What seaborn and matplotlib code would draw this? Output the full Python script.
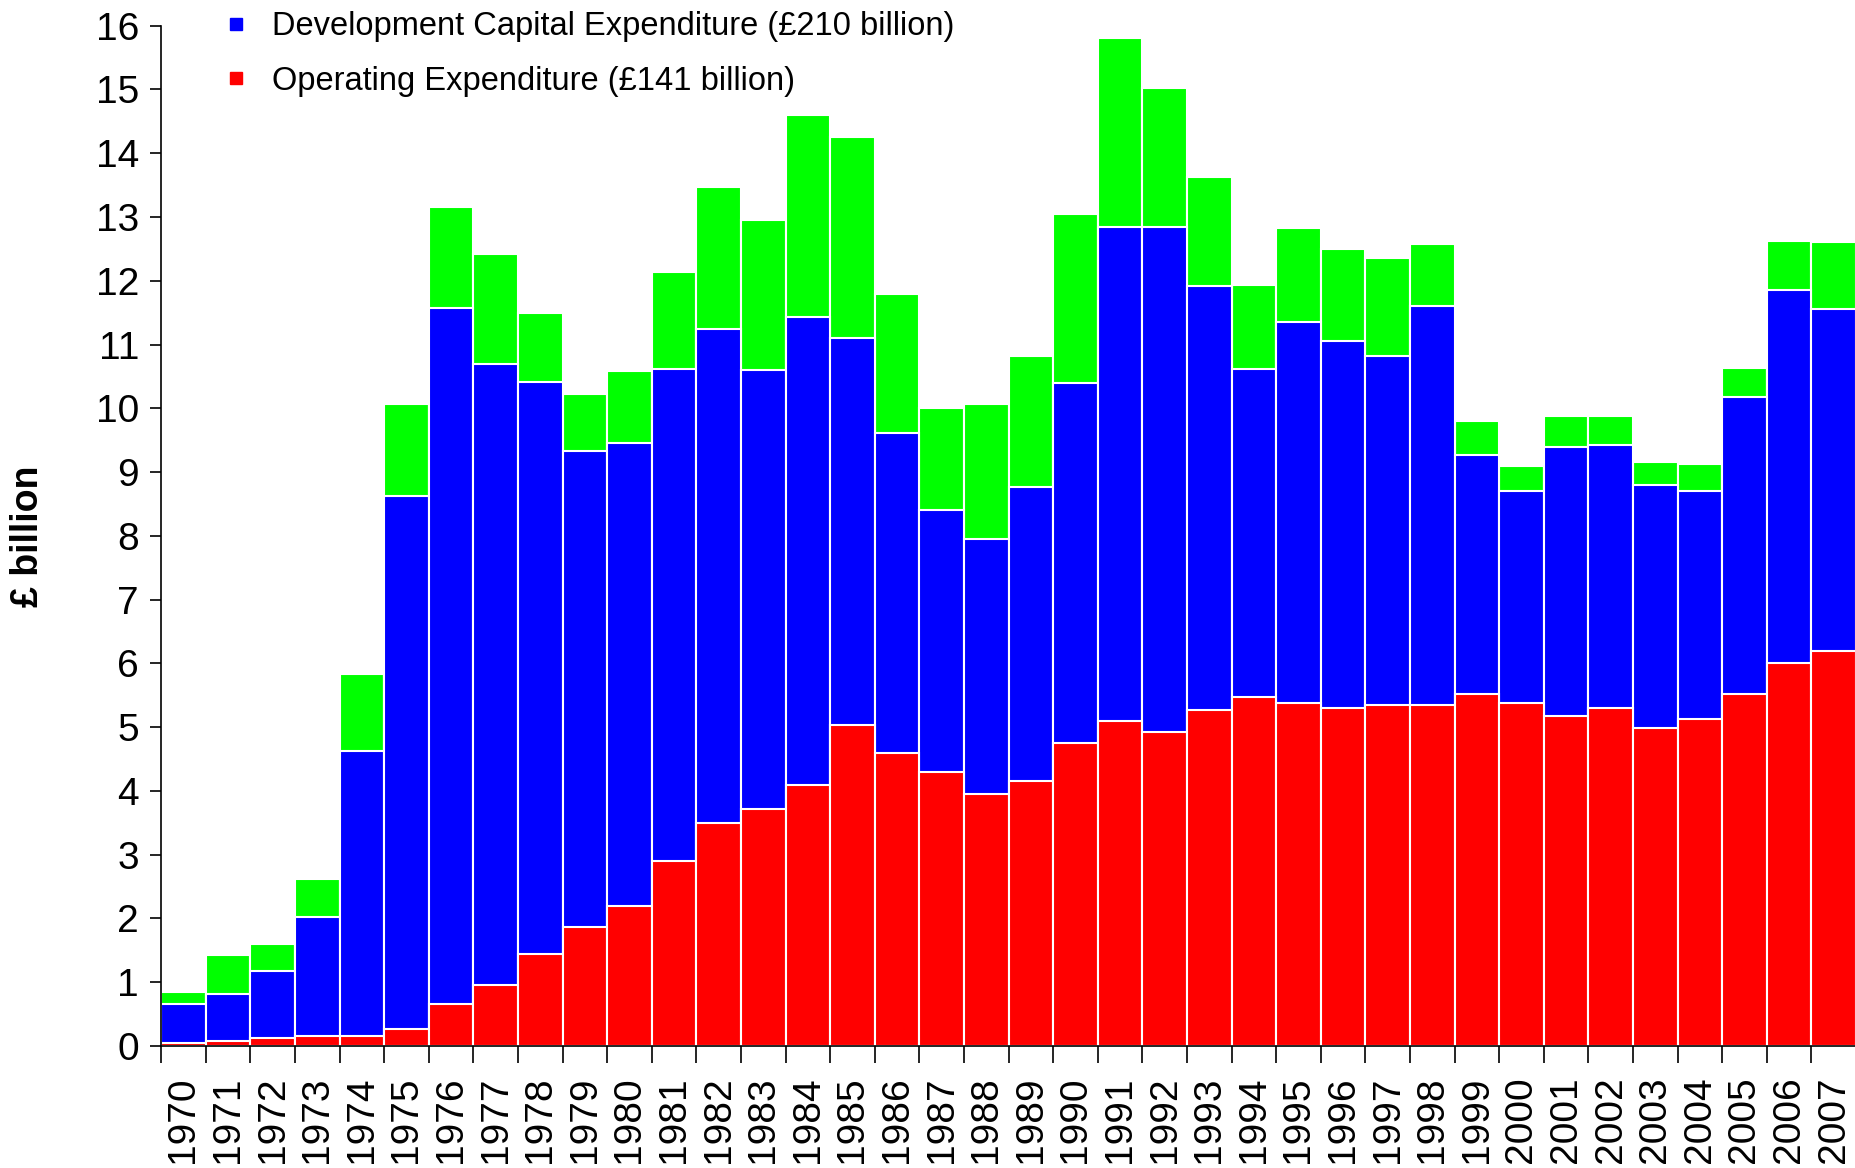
import numpy as np
import pandas as pd
import seaborn as sns
import matplotlib.pyplot as plt
from matplotlib.lines import Line2D

years = [str(y) for y in range(1970, 2008)]
# cumulative heights (£ billion)
operating = [0.05, 0.08, 0.12, 0.15, 0.15, 0.27, 0.66, 0.95, 1.44, 1.87,
             2.20, 2.90, 3.50, 3.72, 4.10, 5.03, 4.60, 4.30, 3.95, 4.15,
             4.75, 5.10, 4.92, 5.27, 5.47, 5.38, 5.30, 5.35, 5.35, 5.52,
             5.38, 5.18, 5.30, 4.98, 5.12, 5.52, 6.00, 6.20]
dev_top = [0.65, 0.82, 1.17, 2.03, 4.62, 8.62, 11.57, 10.70, 10.42, 9.33,
           9.45, 10.62, 11.25, 10.60, 11.43, 11.10, 9.62, 8.40, 7.95, 8.77,
           10.40, 12.85, 12.85, 11.92, 10.62, 11.35, 11.05, 10.82, 11.60, 9.27,
           8.70, 9.40, 9.43, 8.80, 8.70, 10.17, 11.85, 11.55]
total = [0.85, 1.42, 1.60, 2.62, 5.83, 10.07, 13.15, 12.42, 11.50, 10.22,
         10.58, 12.13, 13.47, 12.95, 14.60, 14.25, 11.80, 10.00, 10.07, 10.82,
         13.05, 15.80, 15.03, 13.62, 11.93, 12.82, 12.50, 12.35, 12.57, 9.80,
         9.10, 9.88, 9.88, 9.15, 9.12, 10.63, 12.63, 12.60]

df = pd.DataFrame({"Year": years, "Operating": operating, "Dev": dev_top, "Total": total})

sns.set_style("white")
plt.rcParams['font.family'] = ['Liberation Sans', 'DejaVu Sans']
plt.rcParams['text.color'] = 'black'
plt.rcParams['axes.labelcolor'] = 'black'
plt.rcParams['xtick.color'] = 'black'
plt.rcParams['ytick.color'] = 'black'

fig = plt.figure(figsize=(18.56, 11.68), dpi=100)
ax = fig.add_axes([0.0868, 0.1045, 0.9132, 0.8735])

# overlapping bars give the stacked look
bar_kw = dict(width=1.0, edgecolor="white", linewidth=1.5, saturation=1, ax=ax)
sns.barplot(data=df, x="Year", y="Total", color="#00ff00", **bar_kw)
sns.barplot(data=df, x="Year", y="Dev", color="#0000ff", **bar_kw)
sns.barplot(data=df, x="Year", y="Operating", color="#ff0000", **bar_kw)

n = len(years)
ax.set_xlim(-0.5, n - 0.5)
ax.set_ylim(0, 16)
ax.set_yticks(range(0, 17))
ax.tick_params(axis="y", labelsize=28, length=8, width=1.2, direction="out", pad=8, left=True)

# tick marks at bar edges, labels at bar centres
ax.set_xticks(np.arange(n + 1) - 0.5)
ax.set_xticklabels([])
ax.set_xticks(np.arange(n), minor=True)
ax.set_xticklabels(years, minor=True, rotation=90, fontsize=28)
ax.tick_params(axis="x", which="major", length=12, width=1.2, direction="out", bottom=True)
ax.tick_params(axis="x", which="minor", length=0, pad=22)

ax.set_xlabel("")
ax.set_ylabel("£ billion", fontsize=27, fontweight="bold", labelpad=36)

for s in ["top", "right"]:
    ax.spines[s].set_visible(False)
ax.spines["left"].set_color("black")
ax.spines["bottom"].set_color("black")
ax.spines["left"].set_linewidth(1.2)
ax.spines["bottom"].set_linewidth(1.2)

handles = [Line2D([], [], marker="s", color="#0000ff", linestyle="", markersize=9),
           Line2D([], [], marker="s", color="#ff0000", linestyle="", markersize=9)]
labels = ["Development Capital Expenditure (£210 billion)",
          "Operating Expenditure (£141 billion)"]
ax.legend(handles, labels, loc="upper left", bbox_to_anchor=(0.017, 1.043),
          frameon=False, fontsize=23.5, handletextpad=0.6, labelspacing=0.72,
          handlelength=1.0)

fig.savefig("out.png", dpi=100)
